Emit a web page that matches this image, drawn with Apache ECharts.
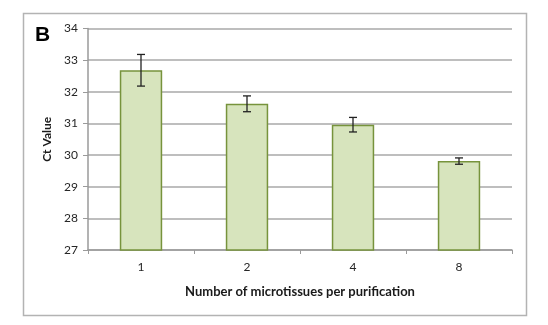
<!DOCTYPE html>
<html><head><meta charset="utf-8">
<script src="https://cdn.jsdelivr.net/npm/echarts@6/dist/echarts.min.js"></script>
<style>html,body{margin:0;padding:0;background:#fff}#c{width:548px;height:325px}</style>
</head><body><div id="c"></div>
<script>
const categories = ['1', '2', '4', '8'];
const ctValues = [32.68, 31.62, 30.96, 29.81];
const ctErrors = [0.5, 0.25, 0.23, 0.1];
const yTicks = [27, 28, 29, 30, 31, 32, 33, 34];

const chart = echarts.init(document.getElementById('c'));
const font = 'Lato, "Open Sans", sans-serif';
chart.setOption({
  animation: false,
  graphic: [
    {type: 'rect', shape: {x: 23.5, y: 13.5, width: 503, height: 302}, style: {fill: 'none', stroke: '#b3b3b3', lineWidth: 1.5}, z: -1},
    {type: 'text', left: 35, top: 25, style: {text: 'B', font: 'bold 21px "Liberation Sans", Arial, sans-serif', fill: '#000'}}
  ],
  grid: {left: 88, right: 36, top: 28.5, bottom: 75},
  xAxis: {
    type: 'category', data: categories,
    axisLine: {lineStyle: {color: '#9a9a9a', width: 1.5}},
    axisTick: {show: true, alignWithLabel: false, length: 4, lineStyle: {color: '#9a9a9a'}},
    axisLabel: {color: '#262626', fontFamily: font, fontSize: 12, margin: 11},
    name: 'Number of microtissues per purification', nameLocation: 'middle', nameGap: 35,
    nameTextStyle: {color: '#1a1a1a', fontFamily: font, fontSize: 13, fontWeight: 'bold'}
  },
  yAxis: {
    type: 'value', min: 27, max: 34, interval: 1,
    axisLine: {show: true, lineStyle: {color: '#9a9a9a', width: 1.5}},
    axisTick: {show: true, length: 5, inside: false, lineStyle: {color: '#9a9a9a'}},
    axisLabel: {color: '#262626', fontFamily: font, fontSize: 12, margin: 10,
      formatter: v => yTicks.includes(v) ? String(v) : ''},
    splitLine: {lineStyle: {color: '#a8a8a8', width: 1.5}},
    name: 'Ct Value', nameLocation: 'middle', nameGap: 35,
    nameTextStyle: {color: '#1a1a1a', fontFamily: font, fontSize: 12, fontWeight: 'bold'}
  },
  series: [
    {
      type: 'bar', data: ctValues, barWidth: '40%',
      itemStyle: {color: '#d7e4bd', borderColor: '#77933c', borderWidth: 1.5}
    },
    {
      type: 'custom',
      data: categories.map((c, i) => [i, ctValues[i] - ctErrors[i], ctValues[i] + ctErrors[i]]),
      renderItem: (params, api) => {
        const lo = api.coord([api.value(0), api.value(1)]);
        const hi = api.coord([api.value(0), api.value(2)]);
        const w = 4;
        const st = {stroke: '#222', lineWidth: 1.3};
        return {type: 'group', children: [
          {type: 'line', shape: {x1: hi[0], y1: hi[1], x2: lo[0], y2: lo[1]}, style: st},
          {type: 'line', shape: {x1: hi[0]-w, y1: hi[1], x2: hi[0]+w, y2: hi[1]}, style: st},
          {type: 'line', shape: {x1: lo[0]-w, y1: lo[1], x2: lo[0]+w, y2: lo[1]}, style: st}
        ]};
      },
      z: 10
    }
  ]
});
</script></body></html>
